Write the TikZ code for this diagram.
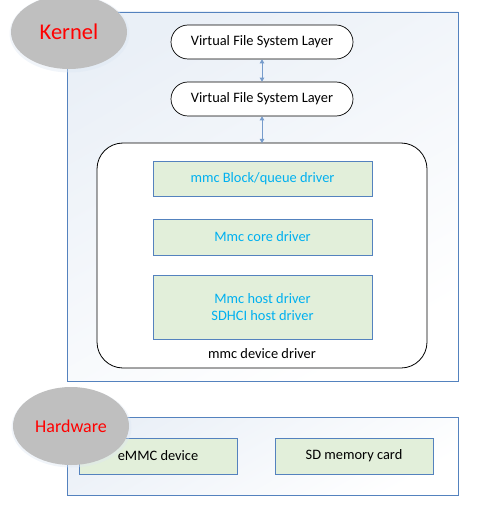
\documentclass[tikz,border=0pt]{standalone}
\usepackage{fontspec}
\setmainfont{Carlito}
\usetikzlibrary{positioning}
\usetikzlibrary{arrows.meta}
\usetikzlibrary{shapes.geometric}

\definecolor{frameblue}{RGB}{84,130,190}
\definecolor{boxgreen}{RGB}{226,239,218}
\definecolor{textcyan}{RGB}{0,176,240}
\definecolor{ovalgray}{RGB}{191,191,191}

\tikzset{
  layerframe/.style={draw=frameblue, line width=0.8pt, left color=frameblue!12, right color=white, shading angle=30},
  vfsbox/.style={draw=black, line width=0.7pt, fill=white, rounded corners=17pt, minimum width=182pt, minimum height=34pt, font=\fontsize{14.4}{16}\selectfont},
  drvbox/.style={draw=frameblue, line width=0.7pt, fill=boxgreen, minimum width=219pt, text=textcyan, font=\fontsize{14.4}{17}\selectfont, align=center},
  hwbox/.style={draw=frameblue, line width=0.7pt, fill=boxgreen, minimum width=158pt, minimum height=36pt, font=\fontsize{14.4}{16}\selectfont},
  oval/.style={ellipse, fill=ovalgray, text=red, minimum width=116pt, inner sep=0pt},
  link/.style={draw=frameblue!80, line width=0.8pt, {Triangle[width=4.5pt,length=4pt]}-{Triangle[width=4.5pt,length=4pt]}}
}

\begin{document}
\begin{tikzpicture}[x=1pt, y=-1pt]
\useasboundingbox (0,0) rectangle (493,513);
% layer frames
\shade[layerframe] (67,12) rectangle (458,381);
\shade[layerframe] (67,417) rectangle (458,495);
% kernel side
\node[vfsbox] (vfs1) at (262,42) {Virtual File System Layer};
\node[vfsbox] (vfs2) at (262,99) {Virtual File System Layer};
\draw[line width=0.8pt, rounded corners=26pt, fill=white] (97,143) rectangle (427,368);
\coordinate (drvtop) at (262,143);
\node[font=\fontsize{14.4}{16}\selectfont] (drvlabel) at (262,354) {mmc device driver};
\node[drvbox, minimum height=35pt] (block) at (262.5,178.5) {mmc Block/queue driver};
\node[drvbox, minimum height=36pt] (core) at (262.5,237) {Mmc core driver};
\node[drvbox, minimum height=64pt] (host) at (262.5,307) {Mmc host driver\\SDHCI host driver};
\draw[link] (vfs1) -- (vfs2);
\draw[link] (vfs2) -- (drvtop);
% hardware side
\node[hwbox] (emmc) at (158,456) {eMMC device};
\node[hwbox] (sdcard) at (354,456) {SD memory card};
% labels
\fill[frameblue!20, opacity=0.4] (69.5,33.5) ellipse (60pt and 39pt);
\node[oval, minimum height=74pt, font=\fontsize{22.5}{24}\selectfont] (kernel) at (69,32) {Kernel};
\fill[frameblue!20, opacity=0.4] (71.5,427.5) ellipse (60pt and 40pt);
\node[oval, minimum height=78pt, font=\fontsize{18}{20}\selectfont] (hardware) at (71,426) {Hardware};
\end{tikzpicture}
\end{document}
